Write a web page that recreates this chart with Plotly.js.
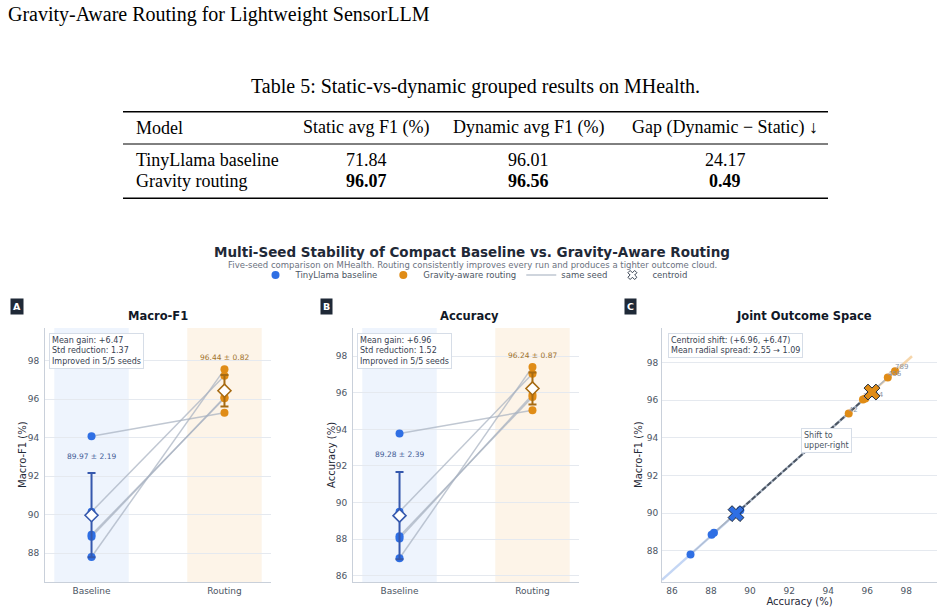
<!DOCTYPE html>
<html>
<head>
<meta charset="utf-8">
<script src="https://cdn.plot.ly/plotly-3.0.1.min.js"></script>
<style>
  html, body { margin: 0; padding: 0; background: #ffffff; }
  #chart { width: 944px; height: 614px; }
</style>
</head>
<body>
<div id="chart"></div>
<script>
// ---------------- Table 5 ----------------
const tableColumns = ['Model', 'Static avg F1 (%)', 'Dynamic avg F1 (%)', 'Gap (Dynamic \u2212 Static) \u2193'];
const tableModels = ['TinyLlama baseline', 'Gravity routing'];
const staticF1 = ['71.84', '96.07'];
const dynamicF1 = ['96.01', '96.56'];
const gapF1 = ['24.17', '0.49'];
const boldRow = [false, true];

// ---------------- per-seed results ----------------
const seeds = ['42', '456', '789', '123', '1234'];
const baseF1 = [94.08, 90.15, 87.80, 88.95, 88.85];
const routeF1 = [95.30, 97.22, 97.55, 96.05, 96.10];
const baseAcc = [93.78, 89.50, 86.95, 88.15, 88.03];
const routeAcc = [95.05, 97.05, 97.42, 95.78, 95.90];

// ---------------- summary statistics ----------------
const groups = ['Baseline', 'Routing'];
const f1Mean = [89.97, 96.44];
const f1Std = [2.19, 0.82];
const accMean = [89.28, 96.24];
const accStd = [2.39, 0.87];
const radialSpread = [2.55, 1.09];

// ---------------- styling ----------------
const W = 944, H = 614;
const px = v => v / W;          // pixel column -> paper x
const py = v => 1 - v / H;      // pixel row -> paper y

const BLUE = '#2f6fe4';
const ORANGE = '#e08c16';
const BLUE_DARK = '#3558ad';
const ORANGE_DARK = '#a76b12';
const SEED_LINE = 'rgba(168,178,192,0.72)';
const GRID = '#e5e9ef';
const AXLINE = '#c9d0da';
const TICK = '#4b5563';
const FONT = 'DejaVu Sans';

const traces = [];
const annotations = [];
const shapes = [];

// ---------- header and table ----------
annotations.push({
  xref: 'paper', yref: 'paper', x: px(6), y: py(14), xanchor: 'left', yanchor: 'middle',
  text: 'Gravity-Aware Routing for Lightweight SensorLLM', showarrow: false,
  font: { family: 'Liberation Serif', size: 20, color: '#000' }
});
annotations.push({
  xref: 'paper', yref: 'paper', x: px(475), y: py(86), xanchor: 'center', yanchor: 'middle',
  text: 'Table 5: Static-vs-dynamic grouped results on MHealth.', showarrow: false,
  font: { family: 'Liberation Serif', size: 20, color: '#000' }
});
const colX = [134, 366, 528, 725];
const colAnchor = ['left', 'center', 'center', 'center'];
const headerY = 128, rowY = [160, 181];
tableColumns.forEach((c, j) => annotations.push({
  xref: 'paper', yref: 'paper', x: px(colX[j]), y: py(headerY), xanchor: colAnchor[j], yanchor: 'middle',
  text: c, showarrow: false, font: { family: 'Liberation Serif', size: 18, color: '#000' }
}));
tableModels.forEach((m, i) => {
  const cells = [m, staticF1[i], dynamicF1[i], gapF1[i]];
  cells.forEach((c, j) => annotations.push({
    xref: 'paper', yref: 'paper', x: px(colX[j]), y: py(rowY[i]), xanchor: colAnchor[j], yanchor: 'middle',
    text: (boldRow[i] && j > 0) ? '<b>' + c + '</b>' : c, showarrow: false,
    font: { family: 'Liberation Serif', size: 18, color: '#000' }
  }));
});
[[111.7, 1.6], [144, 1], [198.3, 1.6]].forEach(([y, w]) => shapes.push({
  type: 'line', xref: 'paper', yref: 'paper', x0: px(123), x1: px(828), y0: py(y), y1: py(y),
  line: { color: '#000', width: w }
}));

// ---------- chart headings ----------
annotations.push({
  xref: 'paper', yref: 'paper', x: px(472), y: py(264.5), xanchor: 'center', yanchor: 'middle', showarrow: false,
  text: 'Five-seed comparison on MHealth. Routing consistently improves every run and produces a tighter outcome cloud.',
  font: { family: FONT, size: 8.5, color: '#6b7280' }
});
const panelTag = [['A', 17], ['B', 326], ['C', 630]];
panelTag.forEach(([t, x]) => annotations.push({
  xref: 'paper', yref: 'paper', x: px(x), y: py(306.5), xanchor: 'center', yanchor: 'middle', showarrow: false,
  text: '<b>' + t + '</b>', bgcolor: '#1f2937', borderpad: 2,
  font: { family: FONT, size: 9.5, color: '#ffffff' }
}));
const panelTitles = [['Macro-F1', 158], ['Accuracy', 469], ['Joint Outcome Space', 804]];
panelTitles.forEach(([t, x]) => annotations.push({
  xref: 'paper', yref: 'paper', x: px(x), y: py(316), xanchor: 'center', yanchor: 'middle', showarrow: false,
  text: '<b>' + t + '</b>', font: { family: FONT, size: 11.5, color: '#111827' }
}));
// y-axis titles
const yTitles = [['Macro-F1 (%)', 22], ['Accuracy (%)', 331], ['Macro-F1 (%)', 638]];
yTitles.forEach(([t, x]) => annotations.push({
  xref: 'paper', yref: 'paper', x: px(x), y: py(455), xanchor: 'center', yanchor: 'middle', showarrow: false,
  textangle: -90, text: t, font: { family: FONT, size: 10, color: '#1f2937' }
}));

// ---------- panels A and B: paired seeds per group ----------
function pairedPanel(ax, base, route, mean, std, isFirst) {
  const xref = ax === '' ? 'x' : 'x' + ax, yref = ax === '' ? 'y' : 'y' + ax;
  // group bands
  shapes.push({ type: 'rect', xref: xref, yref: yref + ' domain', x0: -0.28, x1: 0.28, y0: 0, y1: 1,
    fillcolor: '#eef4fd', line: { width: 0 }, layer: 'below' });
  shapes.push({ type: 'rect', xref: xref, yref: yref + ' domain', x0: 0.72, x1: 1.28, y0: 0, y1: 1,
    fillcolor: '#fdf4e8', line: { width: 0 }, layer: 'below' });
  // same-seed links
  seeds.forEach((s, i) => traces.push({
    type: 'scatter', mode: 'lines', xaxis: xref, yaxis: yref,
    x: [groups[0], groups[1]], y: [base[i], route[i]],
    line: { color: SEED_LINE, width: 1.5 }, hoverinfo: 'skip',
    name: 'same seed', showlegend: isFirst && i === 0, legendrank: 3
  }));
  // seed points
  traces.push({
    type: 'scatter', mode: 'markers', xaxis: xref, yaxis: yref,
    x: base.map(() => groups[0]), y: base, marker: { color: BLUE, size: 8 },
    name: 'TinyLlama baseline', showlegend: isFirst, legendrank: 1
  });
  traces.push({
    type: 'scatter', mode: 'markers', xaxis: xref, yaxis: yref,
    x: route.map(() => groups[1]), y: route, marker: { color: ORANGE, size: 8 },
    name: 'Gravity-aware routing', showlegend: isFirst, legendrank: 2
  });
  // mean +/- std
  [0, 1].forEach(g => {
    const dark = g === 0 ? BLUE_DARK : ORANGE_DARK;
    traces.push({
      type: 'scatter', mode: 'markers', xaxis: xref, yaxis: yref,
      x: [groups[g]], y: [mean[g]],
      error_y: { type: 'data', array: [std[g]], visible: true, color: dark, thickness: 2, width: 4 },
      marker: { symbol: 'diamond', size: 10, color: '#ffffff', line: { color: dark, width: 1.6 } },
      showlegend: false, hoverinfo: 'skip'
    });
    annotations.push({
      xref: xref, yref: yref, x: groups[g], y: mean[g] + std[g], yshift: 17, showarrow: false,
      text: mean[g].toFixed(2) + ' \u00b1 ' + std[g].toFixed(2),
      font: { family: FONT, size: 7.5, color: g === 0 ? '#3f5b95' : '#a0722c' }
    });
  });
  const improved = base.filter((b, i) => route[i] > b).length;
  annotations.push({
    xref: xref + ' domain', yref: yref + ' domain', x: 0.018, y: 0.982, xanchor: 'left', yanchor: 'top',
    showarrow: false, align: 'left', bgcolor: '#ffffff', bordercolor: '#d6dde7', borderwidth: 1, borderpad: 2,
    text: 'Mean gain: +' + (mean[1] - mean[0]).toFixed(2) +
          '<br>Std reduction: ' + (std[0] - std[1]).toFixed(2) +
          '<br>Improved in ' + improved + '/' + seeds.length + ' seeds',
    font: { family: FONT, size: 8, color: '#374151' }
  });
}
pairedPanel('', baseF1, routeF1, f1Mean, f1Std, true);
pairedPanel('2', baseAcc, routeAcc, accMean, accStd, false);

// ---------- panel C: joint outcome space ----------
const xRangeC = [85.49, 99.57];
const slope = (f1Mean[1] - f1Mean[0]) / (accMean[1] - accMean[0]);
const onGuide = x => f1Mean[0] + slope * (x - accMean[0]);
const guideTail = 2.05;
const guideSegs = [
  [xRangeC[0], accMean[0], 'rgba(176,200,240,0.75)'],
  [accMean[0], accMean[1], 'rgba(186,196,212,0.75)'],
  [accMean[1], accMean[1] + guideTail, 'rgba(244,204,150,0.8)']
];
guideSegs.forEach(([a, b, c]) => traces.push({
  type: 'scatter', mode: 'lines', xaxis: 'x3', yaxis: 'y3',
  x: [a, b], y: [onGuide(a), onGuide(b)], line: { color: c, width: 2.5 },
  showlegend: false, hoverinfo: 'skip'
}));
seeds.forEach((s, i) => traces.push({
  type: 'scatter', mode: 'lines', xaxis: 'x3', yaxis: 'y3',
  x: [baseAcc[i], routeAcc[i]], y: [baseF1[i], routeF1[i]],
  line: { color: SEED_LINE, width: 1.2 }, showlegend: false, hoverinfo: 'skip'
}));
traces.push({
  type: 'scatter', mode: 'lines', xaxis: 'x3', yaxis: 'y3',
  x: accMean, y: f1Mean, line: { color: '#4b5563', width: 2, dash: '5px,2px' },
  showlegend: false, hoverinfo: 'skip'
});
traces.push({
  type: 'scatter', mode: 'markers', xaxis: 'x3', yaxis: 'y3',
  x: baseAcc, y: baseF1, marker: { color: BLUE, size: 8 }, showlegend: false
});
traces.push({
  type: 'scatter', mode: 'markers', xaxis: 'x3', yaxis: 'y3',
  x: routeAcc, y: routeF1, marker: { color: ORANGE, size: 8 }, showlegend: false
});
traces.push({
  type: 'scatter', mode: 'text', xaxis: 'x3', yaxis: 'y3',
  x: routeAcc, y: routeF1, text: seeds, textposition: 'top right',
  textfont: { family: FONT, size: 7, color: '#8b94a3' }, showlegend: false, hoverinfo: 'skip'
});
traces.push({
  type: 'scatter', mode: 'markers', xaxis: 'x3', yaxis: 'y3',
  x: accMean, y: f1Mean,
  marker: { symbol: 'x', size: 14, color: [BLUE, ORANGE], line: { color: '#1f2937', width: 1 } },
  showlegend: false
});
traces.push({
  type: 'scatter', mode: 'markers', xaxis: 'x3', yaxis: 'y3', x: [null], y: [null],
  name: 'centroid', legendrank: 4,
  marker: { symbol: 'x', size: 8, color: '#ffffff', line: { color: '#374151', width: 1 } }
});
annotations.push({
  xref: 'x3 domain', yref: 'y3 domain', x: 0.023, y: 0.982, xanchor: 'left', yanchor: 'top',
  showarrow: false, align: 'left', bgcolor: '#ffffff', bordercolor: '#d6dde7', borderwidth: 1, borderpad: 2,
  text: 'Centroid shift: (+' + (accMean[1] - accMean[0]).toFixed(2) + ', +' + (f1Mean[1] - f1Mean[0]).toFixed(2) + ')' +
        '<br>Mean radial spread: ' + radialSpread[0].toFixed(2) + ' \u2192 ' + radialSpread[1].toFixed(2),
  font: { family: FONT, size: 8, color: '#374151' }
});
annotations.push({
  xref: 'x3', yref: 'y3', x: 93.9, y: 93.85, showarrow: false, align: 'left',
  bgcolor: '#ffffff', bordercolor: '#d6dde7', borderwidth: 1, borderpad: 2,
  text: 'Shift to<br>upper-right', font: { family: FONT, size: 8, color: '#4b5563' }
});

// ---------- axes ----------
const yDom = [py(582), py(328)];
const baseY = {
  showgrid: true, gridcolor: GRID, gridwidth: 1, zeroline: false,
  showline: true, linecolor: AXLINE, linewidth: 1, ticks: '', ticklabelstandoff: 3,
  tickfont: { family: FONT, size: 9, color: TICK }, domain: yDom, dtick: 2
};
const catX = {
  type: 'category', categoryorder: 'array', categoryarray: groups, range: [-0.35, 1.35],
  showgrid: false, zeroline: false, showline: true, linecolor: AXLINE, linewidth: 1, ticks: '',
  tickfont: { family: FONT, size: 9, color: TICK }
};

const layout = {
  width: W, height: H, margin: { l: 0, r: 0, t: 0, b: 0 },
  paper_bgcolor: '#ffffff', plot_bgcolor: '#ffffff',
  font: { family: FONT, color: '#374151' },
  title: {
    text: '<b>Multi-Seed Stability of Compact Baseline vs. Gravity-Aware Routing</b>',
    xref: 'paper', yref: 'paper', x: px(472), xanchor: 'center', y: py(252), yanchor: 'middle',
    font: { family: FONT, size: 13.5, color: '#1f2937' }
  },
  showlegend: true,
  legend: {
    orientation: 'h', x: px(474), xanchor: 'center', y: py(275), yanchor: 'middle',
    font: { family: FONT, size: 8.5, color: '#4b5563' }, bgcolor: 'rgba(0,0,0,0)', itemwidth: 30
  },
  xaxis: Object.assign({}, catX, { domain: [px(45), px(271)], anchor: 'y' }),
  yaxis: Object.assign({}, baseY, { range: [86.5, 99.7], anchor: 'x' }),
  xaxis2: Object.assign({}, catX, { domain: [px(353), px(579)], anchor: 'y2' }),
  yaxis2: Object.assign({}, baseY, { range: [85.65, 99.55], anchor: 'x2' }),
  xaxis3: {
    domain: [px(662), px(937)], anchor: 'y3', range: xRangeC, dtick: 2,
    showgrid: false, zeroline: false, showline: true, linecolor: AXLINE, linewidth: 1, ticks: '',
    tickfont: { family: FONT, size: 9, color: TICK },
    title: { text: 'Accuracy (%)', font: { family: FONT, size: 10, color: '#1f2937' }, standoff: 2 }
  },
  yaxis3: Object.assign({}, baseY, { range: [86.33, 99.85], anchor: 'x3', ticklabelstandoff: 1 }),
  annotations: annotations,
  shapes: shapes
};

Plotly.newPlot('chart', traces, layout, { displayModeBar: false, staticPlot: true });
</script>
</body>
</html>
